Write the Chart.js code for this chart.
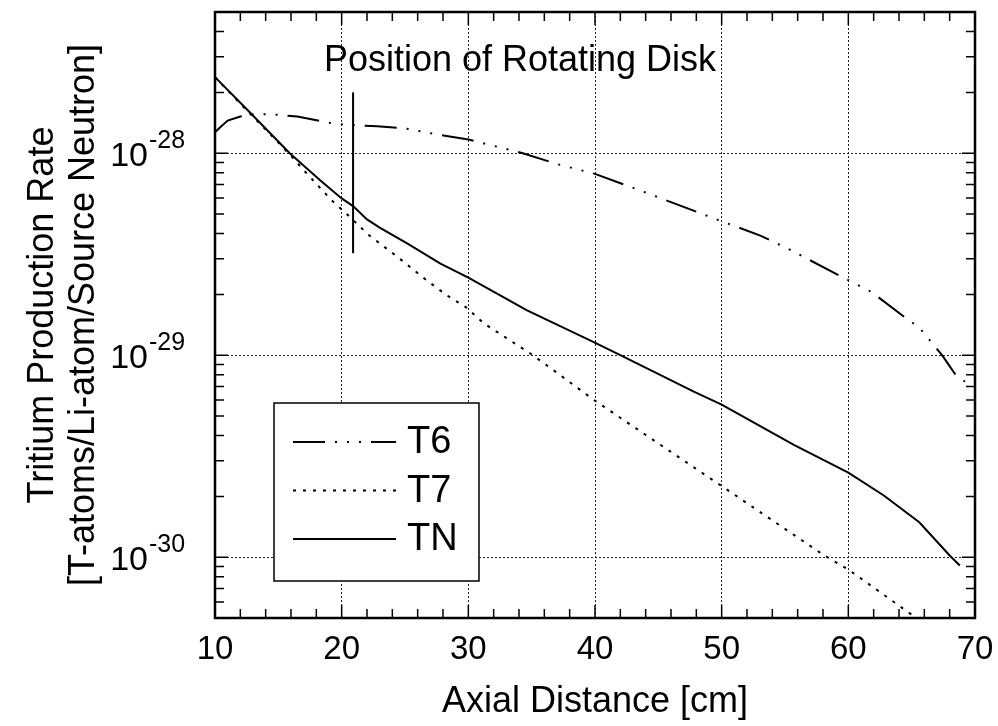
<!DOCTYPE html>
<html lang="en">
<head>
<meta charset="UTF-8">
<title>Tritium Production Rate</title>
<script src="https://cdn.jsdelivr.net/npm/chart.js@4"></script>
<style>
  body { margin: 0; background: #fff; }
</style>
</head>
<body>
<canvas id="myChart" width="998" height="726"></canvas>

<script>
// axial distance [cm] and tritium production rate
var xT6 = [10, 10.5, 11, 12, 13, 14.3, 16.5, 19.1, 20.4, 22.8, 24.9, 27.5, 30, 34.3, 37.1, 40, 43.4, 50, 53.1, 55.5, 60, 61.8, 64.4, 65.6, 67.4, 68.4, 69.2];
var rateT6 = [1.27e-28, 1.36e-28, 1.45e-28, 1.52e-28, 1.56e-28, 1.56e-28, 1.52e-28, 1.41e-28, 1.38e-28, 1.36e-28, 1.33e-28, 1.24e-28, 1.17e-28, 1.0e-28, 8.8e-29, 7.9e-29, 6.6e-29, 4.6e-29, 3.9e-29, 3.3e-29, 2.35e-29, 2.06e-29, 1.55e-29, 1.37e-29, 1.0e-29, 8.1e-30, 7.4e-30];

var xT7 = [10, 12.8, 15.0, 16.2, 17.0, 19.2, 20.7, 22.1, 24.4, 26.7, 28.3, 29.8, 31.2, 35.1, 40, 50, 58, 60.1, 63.6, 64.8, 66.5];
var rateT7 = [2.38e-28, 1.56e-28, 1.13e-28, 9.4e-29, 8.24e-29, 5.85e-29, 4.8e-29, 3.95e-29, 3.07e-29, 2.35e-29, 1.98e-29, 1.73e-29, 1.44e-29, 1.0e-29, 5.95e-30, 2.25e-30, 1.03e-30, 8.6e-31, 6.0e-31, 5.3e-31, 4.5e-31];

var xTN = [10, 12.8, 15.9, 18.3, 20.0, 20.9, 22.0, 23.0, 25.2, 27.8, 30, 31.7, 34.6, 39.9, 42, 47.8, 50, 55.7, 60, 62.8, 65.6, 68.0, 68.8];
var rateTN = [2.38e-28, 1.58e-28, 1.0e-28, 7.35e-29, 5.97e-29, 5.47e-29, 4.7e-29, 4.28e-29, 3.57e-29, 2.84e-29, 2.42e-29, 2.11e-29, 1.67e-29, 1.16e-29, 1.0e-29, 6.6e-30, 5.69e-30, 3.6e-30, 2.62e-30, 2.02e-30, 1.49e-30, 1.02e-30, 9.1e-31];

// marker for the rotating disk
var diskX = [20.9, 20.9];
var diskRate = [3.2e-29, 2.0e-28];

var seriesNames = ['T6', 'T7', 'TN'];
var yTickPowers = [-28, -29, -30];

var FONT = "'Liberation Sans', Arial, Helvetica, sans-serif";

function pairs(xs, ys) {
    return xs.map(function (x, i) { return { x: x, y: ys[i] }; });
}

function isDecade(v) {
    var l = Math.log10(v);
    return Math.abs(l - Math.round(l)) < 1e-6;
}

// inner ticks, frame, y labels with superscript, title text
var framePlugin = {
    id: 'frame',
    afterDatasetsDraw: function (chart) {
        var ctx = chart.ctx, a = chart.chartArea;
        var xs = chart.scales.x, ys = chart.scales.y;
        ctx.save();
        ctx.strokeStyle = '#000';
        ctx.fillStyle = '#000';
        ctx.lineWidth = 1.5;
        ctx.beginPath();
        for (var v = 12; v < 70; v += 2) {
            var px = xs.getPixelForValue(v);
            var len = v % 10 === 0 ? 13 : 9;
            ctx.moveTo(px, a.bottom); ctx.lineTo(px, a.bottom - len);
            ctx.moveTo(px, a.top); ctx.lineTo(px, a.top + len);
        }
        for (var e = -31; e <= -28; e++) {
            for (var m = 1; m <= 9; m++) {
                var val = m * Math.pow(10, e);
                if (val <= ys.min * 1.0001 || val >= ys.max * 0.9999) continue;
                var py = ys.getPixelForValue(val);
                var l2 = m === 1 ? 13 : 9;
                ctx.moveTo(a.left, py); ctx.lineTo(a.left + l2, py);
                ctx.moveTo(a.right, py); ctx.lineTo(a.right - l2, py);
            }
        }
        ctx.stroke();

        ctx.lineWidth = 2.5;
        ctx.strokeRect(a.left, a.top, a.right - a.left, a.bottom - a.top);

        yTickPowers.forEach(function (p) {
            var py = ys.getPixelForValue(Math.pow(10, p));
            ctx.textBaseline = 'middle';
            ctx.font = '34px ' + FONT;
            ctx.textAlign = 'right';
            ctx.fillText('10', a.left - 67, py + 3);
            ctx.font = '25px ' + FONT;
            ctx.textAlign = 'left';
            ctx.fillText(String(p), a.left - 66, py - 12);
        });

        ctx.font = '36px ' + FONT;
        ctx.textAlign = 'center';
        ctx.textBaseline = 'middle';
        ctx.fillText('Position of Rotating Disk', 520, 61);
        ctx.restore();
    }
};

// boxed legend inside the plot
var legendPlugin = {
    id: 'boxLegend',
    afterDatasetsDraw: function (chart) {
        var ctx = chart.ctx, a = chart.chartArea;
        var bx = a.left + 59, by = 403, bw = 205, bh = 178;
        ctx.save();
        ctx.fillStyle = '#fff';
        ctx.fillRect(bx, by, bw, bh);
        ctx.strokeStyle = '#000';
        ctx.lineWidth = 1.5;
        ctx.strokeRect(bx, by, bw, bh);
        seriesNames.forEach(function (name, i) {
            var ds = chart.data.datasets[i];
            var y = 442 + i * 48.5;
            ctx.lineWidth = 2;
            ctx.setLineDash(ds.borderDash || []);
            ctx.beginPath();
            ctx.moveTo(bx + 19, y);
            ctx.lineTo(bx + 122, y);
            ctx.stroke();
            ctx.setLineDash([]);
            ctx.fillStyle = '#000';
            ctx.font = '38px ' + FONT;
            ctx.textAlign = 'left';
            ctx.textBaseline = 'middle';
            ctx.fillText(name, bx + 133, y + 1);
        });
        ctx.restore();
    }
};

function lineSet(label, data, dash) {
    return {
        label: label,
        data: data,
        borderColor: '#000',
        borderWidth: 2,
        borderDash: dash,
        borderCapStyle: 'butt',
        pointRadius: 0,
        tension: 0,
        fill: false
    };
}

var ctx = document.getElementById('myChart').getContext('2d');
var myChart = new Chart(ctx, {
    type: 'line',
    data: {
        datasets: [
            lineSet('T6', pairs(xT6, rateT6), [32, 10, 2, 10, 2, 10, 2, 10]),
            lineSet('T7', pairs(xT7, rateT7), [3, 7]),
            lineSet('TN', pairs(xTN, rateTN), []),
            lineSet('disk', pairs(diskX, diskRate), [])
        ]
    },
    options: {
        responsive: false,
        animation: false,
        layout: { padding: { top: 12, right: 23, left: 0, bottom: 0 } },
        plugins: {
            legend: { display: false },
            tooltip: { enabled: false }
        },
        scales: {
            x: {
                type: 'linear',
                min: 10,
                max: 70,
                afterFit: function (scale) { scale.height = 108; },
                ticks: {
                    stepSize: 10,
                    maxRotation: 0,
                    padding: 3,
                    color: '#000',
                    font: { family: FONT, size: 33 }
                },
                grid: {
                    drawTicks: true,
                    tickLength: 9,
                    tickColor: 'transparent',
                    lineWidth: 1,
                    color: function (c) {
                        var v = c.tick && c.tick.value;
                        return (v > 10 && v < 70) ? '#222' : 'transparent';
                    }
                },
                border: { display: false, dash: [2, 2] },
                title: {
                    display: true,
                    text: 'Axial Distance [cm]',
                    color: '#000',
                    font: { family: FONT, size: 36, lineHeight: 1.2 },
                    padding: { top: 0, bottom: 2 }
                }
            },
            y: {
                type: 'logarithmic',
                min: 5e-31,
                max: 5e-28,
                afterFit: function (scale) { scale.width = 215; },
                ticks: { display: false },
                grid: {
                    drawTicks: false,
                    lineWidth: 1,
                    color: function (c) {
                        return (c.tick && isDecade(c.tick.value)) ? '#222' : 'transparent';
                    }
                },
                border: { display: false, dash: [2, 2] },
                title: {
                    display: true,
                    text: ['Tritium Production Rate', '[T-atoms/Li-atom/Source Neutron]'],
                    color: '#000',
                    font: { family: FONT, size: 36, lineHeight: 1.15 },
                    padding: { top: 22, bottom: 0 }
                }
            }
        }
    },
    plugins: [framePlugin, legendPlugin]
});
</script>
</body>
</html>
